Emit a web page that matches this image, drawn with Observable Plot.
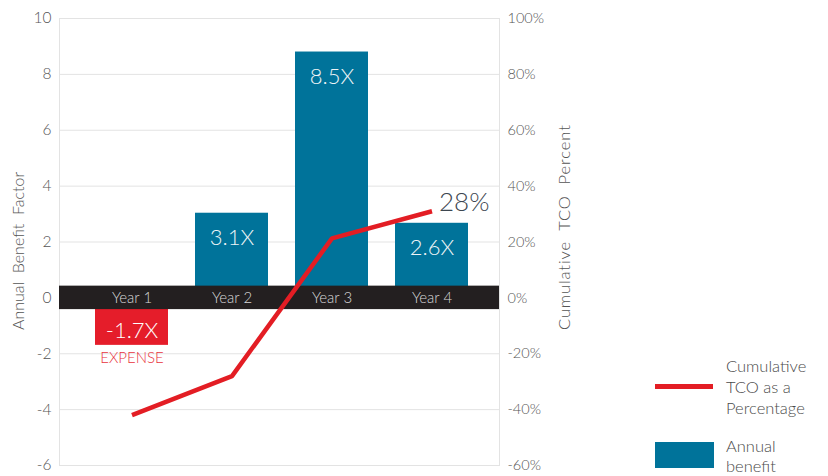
<!DOCTYPE html>
<html>
<head>
<meta charset="utf-8">
<script src="https://cdn.jsdelivr.net/npm/d3@7"></script>
<script src="https://cdn.jsdelivr.net/npm/@observablehq/plot@0.6"></script>
<style>
  body { margin: 0; background: #fff; font-family: Lato, "Open Sans", sans-serif; }
  #wrap { position: relative; width: 828px; height: 476px; overflow: hidden; }
  #wrap svg { position: absolute; left: 0; top: 0; }
  #wrap svg text { font-weight: 300; }
  #wrap svg .rlab text { letter-spacing: 0.9px; }
  .lg { position: absolute; color: #4a4a4a; font-size: 16.5px; line-height: 21px; font-family: Lato, sans-serif; font-weight: 300; }
</style>
</head>
<body>
<div id="wrap"></div>
<script>
const years = ["Year 1", "Year 2", "Year 3", "Year 4"];
const benefit = [-1.7, 3.03, 8.8, 2.67];
const benefitLabels = ["-1.7X", "3.1X", "8.5X", "2.6X"];
const tcoPercent = [-42, -28, 21.3, 31];
const tcoEndLabel = "28%";
const leftTicks = [-6, -4, -2, 0, 2, 4, 6, 8, 10];
const rightTicksPct = [-60, -40, -20, 0, 20, 40, 60, 80, 100];

const bars = years.map((y, i) => ({year: y, v: benefit[i], label: benefitLabels[i]}));
const line = years.map((y, i) => ({year: y, p: tcoPercent[i], v: tcoPercent[i] / 10}));

const teal = "#00739a";
const red = "#e51d2a";

const chart = Plot.plot({
  width: 828,
  height: 476,
  marginLeft: 59,
  marginRight: 329,
  marginTop: 18,
  marginBottom: 11,
  style: {fontFamily: "Lato, 'Open Sans', sans-serif", background: "transparent"},
  x: {domain: years, range: [93, 470], paddingInner: 0.267, paddingOuter: 0, axis: null},
  y: {domain: [-6, 10], axis: null},
  marks: [
    Plot.gridY(leftTicks, {stroke: "#e3e3e3", strokeOpacity: 1}),
    Plot.frame({stroke: "#e3e3e3"}),
    Plot.axisY({ticks: leftTicks, anchor: "left", tickSize: 0, tickPadding: 8, fontSize: 15.5, fill: "#555", label: null, tickFormat: d => String(d)}),
    Plot.axisY({ticks: rightTicksPct.map(d => d / 10), anchor: "right", tickSize: 0, tickPadding: 8, fontSize: 14.5, fill: "#555", label: null, tickFormat: d => String(Math.round(d * 10)) + "%"}),
    Plot.text(["Annual  Benefit  Factor"], {frameAnchor: "left", dx: -41, dy: 88, rotate: -90, textAnchor: "start", fontSize: 16, fill: "#555"}),
    Plot.text(["Cumulative  TCO  Percent"], {frameAnchor: "right", dx: 65, dy: 88, rotate: -90, textAnchor: "start", fontSize: 16.5, fill: "#555", className: "rlab"}),
    Plot.barY(bars, {x: "year", y: "v", fill: d => d.v < 0 ? red : teal}),
    Plot.rect([0], {y1: -0.42, y2: 0.42, fill: "#231f20"}),
    Plot.text(years, {x: d => d, y: 0, fill: "#d8d8d8", fontSize: 15}),
    Plot.text(bars.filter(d => d.v >= 0), {x: "year", y: "v", text: "label", dy: 25, fill: "#eef3f6", fontSize: 22}),
    Plot.text(bars.filter(d => d.v < 0), {x: "year", y: 0, text: "label", dy: 33, fill: "#fff", fontSize: 22}),
    Plot.text(bars.filter(d => d.v < 0), {x: "year", y: "v", text: () => "EXPENSE", dy: 13, fill: "#e8333d", fontSize: 15}),
    Plot.line(line, {x: "year", y: "v", stroke: "#e31d24", strokeWidth: 4.5, strokeLinejoin: "miter", strokeLinecap: "butt"}),
    Plot.text([line[line.length - 1]], {x: "year", y: "v", text: () => tcoEndLabel, textAnchor: "start", dx: 7, dy: -9, fontSize: 26, fill: "#3d4650"})
  ]
});

const wrap = document.getElementById("wrap");
wrap.appendChild(chart);

const legendLineLabel = ["Cumulative", "TCO as a", "Percentage"];
const legendBarLabel = ["Annual", "benefit"];
const l1 = document.createElement("div");
l1.style.cssText = "position:absolute;left:655px;top:384px;width:58px;height:5px;background:#e31d24;";
wrap.appendChild(l1);
const t1 = document.createElement("div");
t1.className = "lg";
t1.style.left = "726px"; t1.style.top = "356px";
t1.innerHTML = legendLineLabel.join("<br>");
wrap.appendChild(t1);
const l2 = document.createElement("div");
l2.style.cssText = "position:absolute;left:655px;top:442px;width:59px;height:26px;background:" + teal + ";";
wrap.appendChild(l2);
const t2 = document.createElement("div");
t2.className = "lg";
t2.style.left = "726px"; t2.style.top = "436px";
t2.style.lineHeight = "20px";
t2.innerHTML = legendBarLabel.join("<br>");
wrap.appendChild(t2);
</script>
</body>
</html>
